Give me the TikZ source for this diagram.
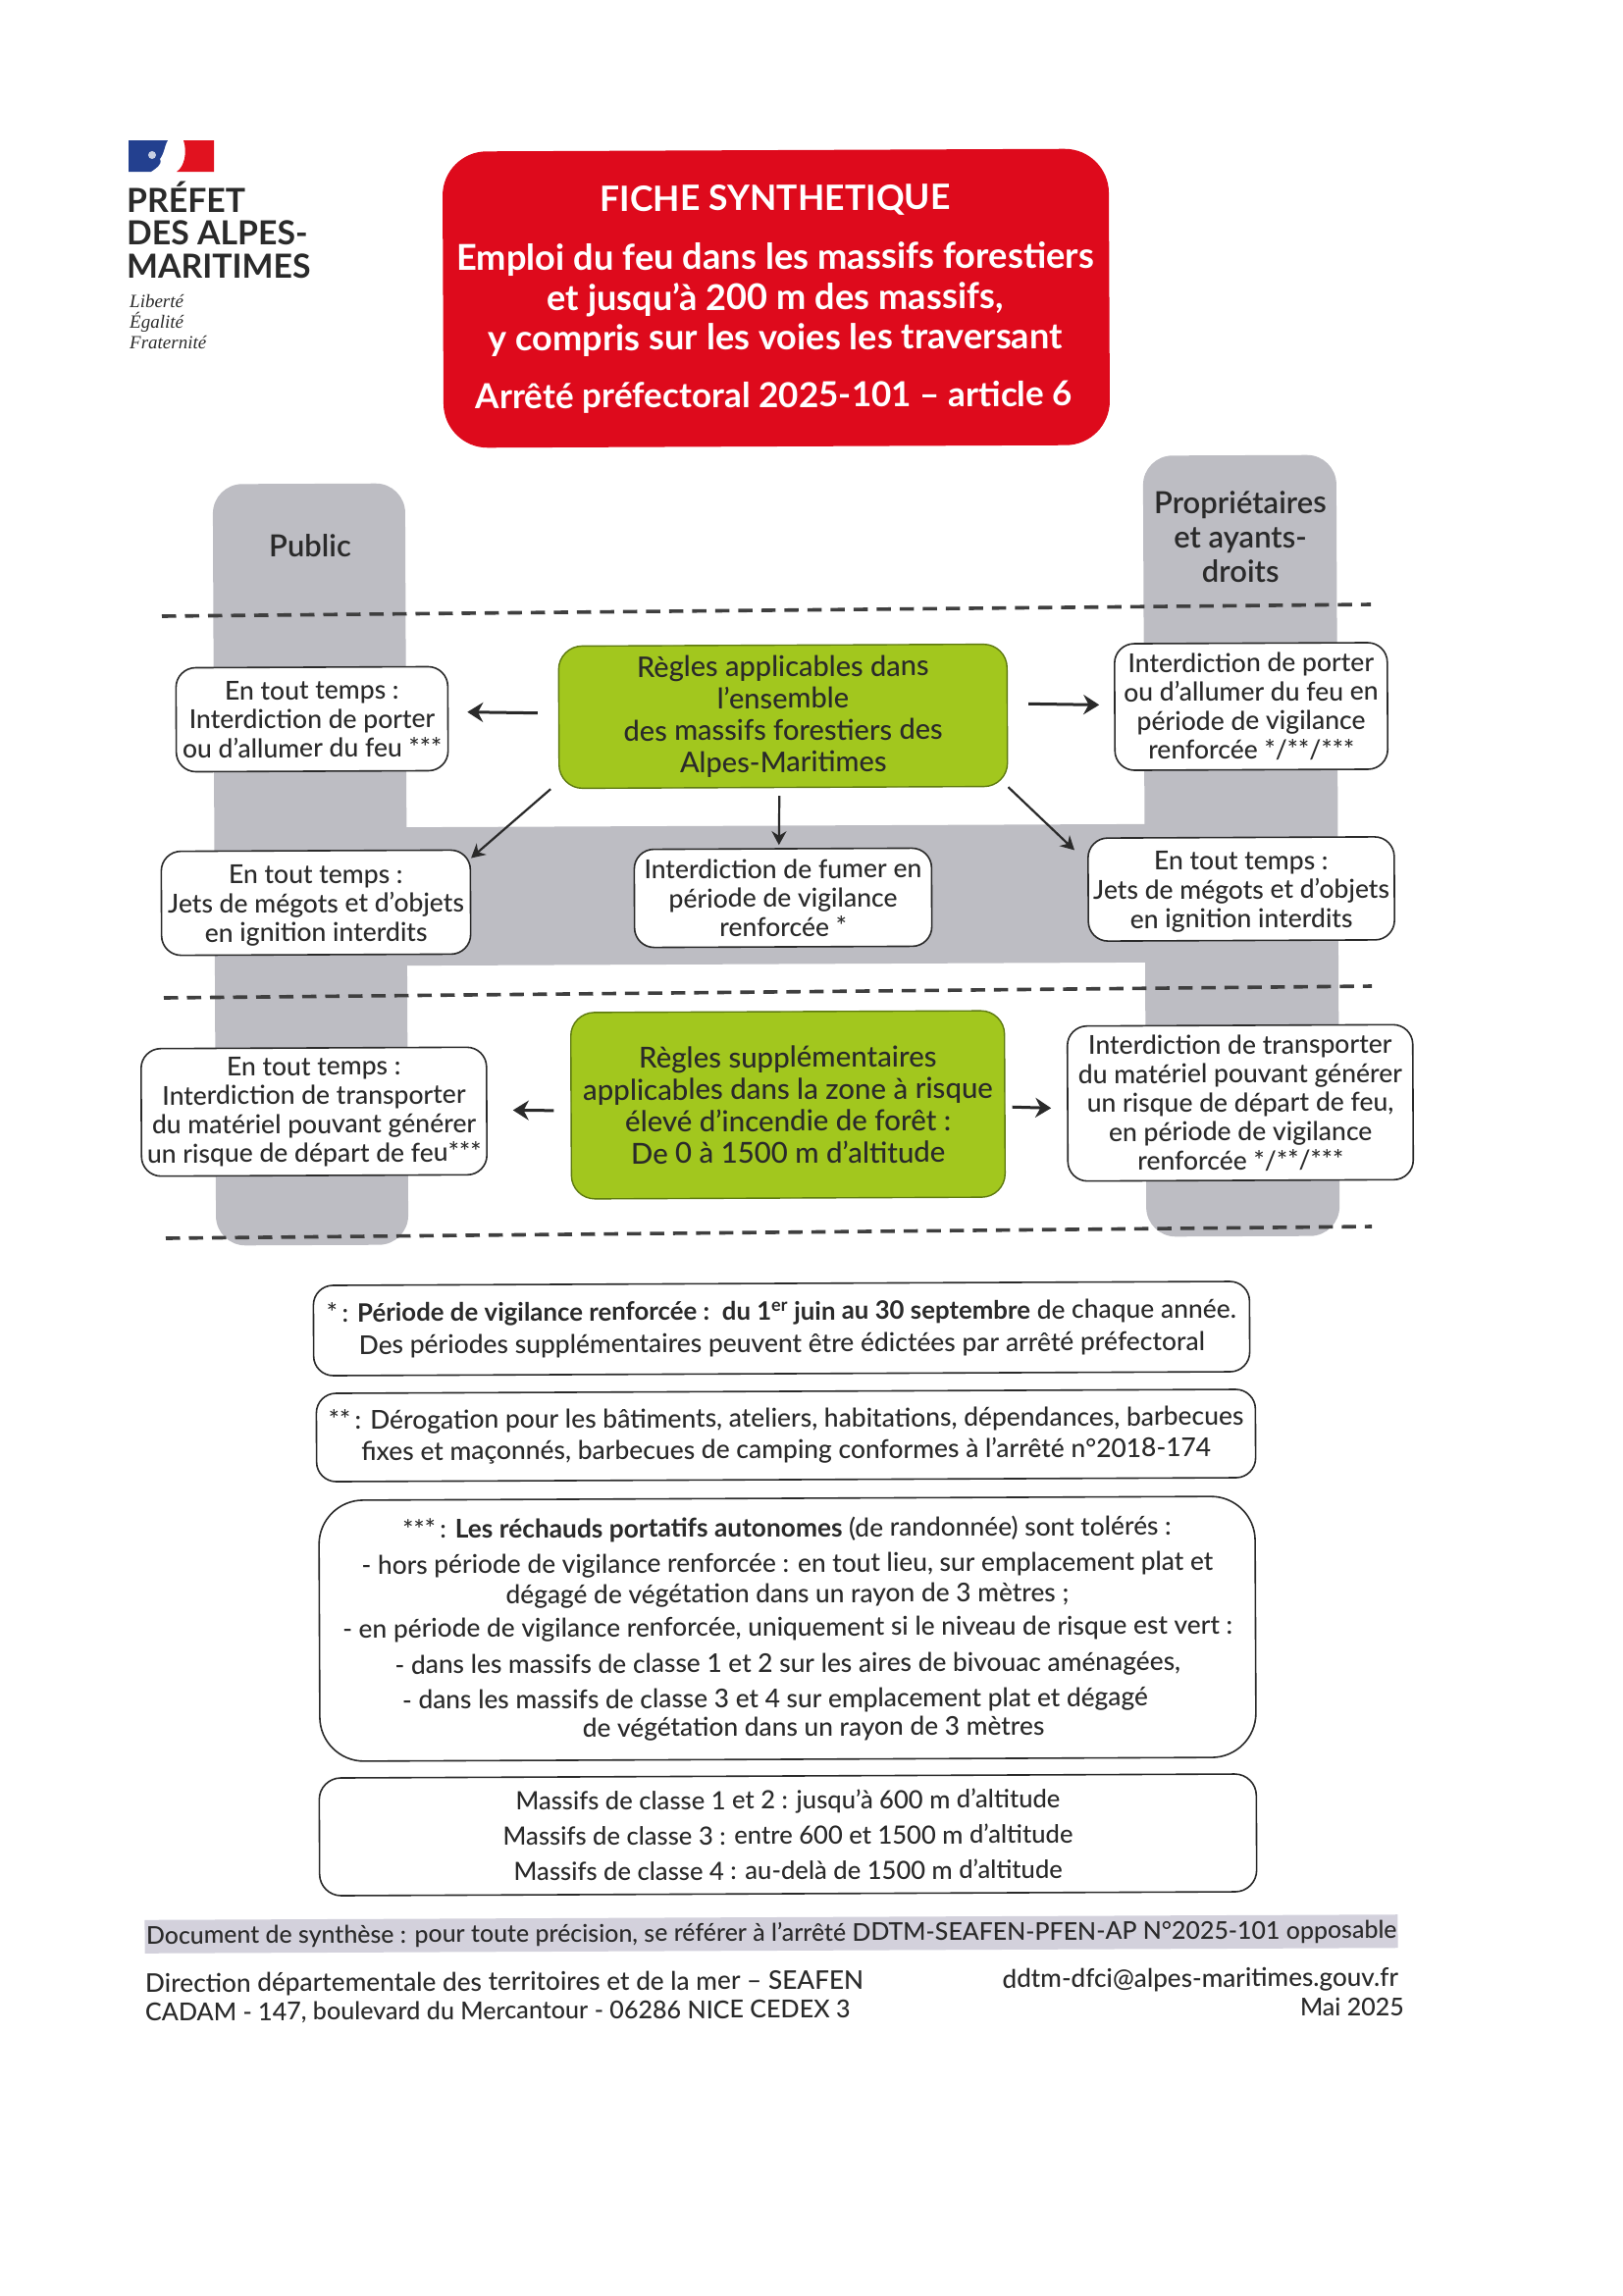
\documentclass[tikz,border=0pt]{standalone}
\usepackage{fontspec}
\setmainfont{Lato Medium}
\newfontfamily\titlefont{Lato Bold}
\newfontfamily\logofont{Lato Bold}
\newfontfamily\strongfont{Lato Bold}
\newfontfamily\semifont{Lato Semibold}
\newfontfamily\devise{Liberation Serif}[ItalicFont=Liberation Serif Italic]
\usetikzlibrary{arrows.meta}
\definecolor{colgrey}{HTML}{BDBDC3}
\definecolor{bandgrey}{HTML}{D3D1DC}
\definecolor{leaf}{HTML}{A2C71E}
\definecolor{leafedge}{HTML}{5E7A10}
\definecolor{alert}{HTML}{DE0A1C}
\definecolor{ink}{HTML}{2A2A2A}
\definecolor{flagblue}{HTML}{23408F}
\definecolor{flagred}{HTML}{E1121F}
\tikzset{
  tilted/.style={rotate=0.25},
  greycol/.style={fill=colgrey,draw=none,rounded corners=30pt,tilted,inner sep=0pt},
  greybar/.style={fill=colgrey,draw=none,tilted,inner sep=0pt},
  whitebox/.style={fill=white,draw=ink,line width=1.6pt,rounded corners=20pt,align=center,inner sep=0pt,text=ink,tilted,font=\fontsize{26.5}{29.5}\selectfont},
  notebox/.style={whitebox,rounded corners=20pt,font=\fontsize{26.4}{33}\selectfont},
  greenbox/.style={fill=leaf,draw=leafedge,line width=1.4pt,rounded corners=24pt,align=center,inner sep=0pt,text=ink,tilted,font=\fontsize{29}{32.5}\selectfont},
  titlebox/.style={fill=alert,draw=none,rounded corners=45pt,tilted,inner sep=0pt},
  titletext/.style={text=white,inner sep=0pt,tilted,anchor=center},
  label/.style={inner sep=0pt,text=ink,tilted,align=center,font=\semifont\fontsize{31}{35}\selectfont},
  foot/.style={inner sep=0pt,text=ink,tilted,font=\fontsize{25}{28}\selectfont},
  logotext/.style={inner sep=0pt,anchor=west,text=ink,font=\logofont\fontsize{33.8}{36}\selectfont},
  devisetext/.style={inner sep=0pt,anchor=west,text=ink,font=\devise\itshape\fontsize{19}{20}\selectfont},
  arr/.style={draw=ink,line width=3pt,-{Stealth[length=16pt,width=20pt]}},
  arrthin/.style={draw=ink,line width=2.2pt,-{Stealth[length=14pt,width=15pt]}},
  dashline/.style={draw=ink!90,line width=3.6pt,dash pattern=on 14.5pt off 9pt},
}
\begin{document}
\begin{tikzpicture}[x=1pt,y=-1pt]
\useasboundingbox (0,0) rectangle (1654,2340);
% grey columns
\node[greycol,minimum width=196pt,minimum height=776pt] (pubcol) at (316.5,881) {};
\node[greycol,minimum width=197pt,minimum height=796pt] (ownercol) at (1265,862) {};
\node[greybar,minimum width=780pt,minimum height=141pt] (bar) at (791,912) {};
\node[label] (publabel) at (316,556) {Public};
\node[label] (ownerlabel) at (1264,547) {Propriétaires\\et ayants-\\droits};
% dashed separators
\coordinate (d1a) at (165,628);\coordinate (d1b) at (1397,616);
\coordinate (d2a) at (167,1017);\coordinate (d2b) at (1398,1005);
\coordinate (d3a) at (169,1262);\coordinate (d3b) at (1398,1250);
\draw[dashline] (d1a) -- (d1b);
\draw[dashline] (d2a) -- (d2b);
\draw[dashline] (d3a) -- (d3b);
% logo
\fill[flagblue] (131,143) -- (171,143) .. controls (167,150) and (168,155) .. (163,162) .. controls (166,168) and (158,172) .. (154,175) -- (131,175) -- cycle;
\fill[flagred] (187,143) -- (218,143) -- (218,175) -- (180,175) .. controls (188,170) and (191,155) .. (187,143) -- cycle;
\fill[white!75!flagblue] (155,158) circle (4pt);
\node[logotext] (pref1) at (129,201) {PRÉFET};
\node[logotext] (pref2) at (129,237) {DES ALPES-};
\node[logotext] (pref3) at (129,271) {MARITIMES};
\node[devisetext] (dev1) at (132,307) {Liberté};
\node[devisetext] (dev2) at (132,328) {Égalité};
\node[devisetext] (dev3) at (132,349) {Fraternité};
% title
\node[titlebox,minimum width=679pt,minimum height=302pt] (title) at (791,304) {};
\node[titletext,font=\titlefont\fontsize{35.6}{40}\selectfont] (t1) at (790,204) {FICHE SYNTHETIQUE};
\node[titletext,font=\titlefont\fontsize{36.3}{40}\selectfont] (t2) at (790,264) {Emploi du feu dans les massifs forestiers};
\node[titletext,font=\titlefont\fontsize{36.2}{40}\selectfont] (t3) at (790,305) {et jusqu’à 200 m des massifs,};
\node[titletext,font=\titlefont\fontsize{36.2}{40}\selectfont] (t4) at (790,346) {y compris sur les voies les traversant};
\node[titletext,font=\titlefont\fontsize{35.1}{40}\selectfont] (t5) at (789,405) {Arrêté préfectoral 2025-101 – article 6};
% rule boxes
\node[greenbox,minimum width=457pt,minimum height=145pt] (green1) at (798,730) {Règles applicables dans\\l’ensemble\\des massifs forestiers des\\Alpes-Maritimes};
\node[whitebox,minimum width=277pt,minimum height=106pt] (pub1) at (318,733) {En tout temps :\\Interdiction de porter\\ou d’allumer du feu ***};
\node[whitebox,minimum width=278pt,minimum height=129pt] (own1) at (1275,720) {Interdiction de porter\\ou d’allumer du feu en\\période de vigilance\\renforcée */**/***};
\node[whitebox,minimum width=315pt,minimum height=106pt] (pub2) at (322,920) {\rule{0pt}{25pt}En tout temps :\\Jets de mégots et d’objets\\en ignition interdits};
\node[whitebox,minimum width=303pt,minimum height=100pt] (mid) at (798,915) {Interdiction de fumer en\\période de vigilance\\renforcée *};
\node[whitebox,minimum width=312pt,minimum height=105pt] (own2) at (1265,906) {\rule{0pt}{25pt}En tout temps :\\Jets de mégots et d’objets\\en ignition interdits};
\node[greenbox,font=\fontsize{29.4}{32.5}\selectfont,minimum width=442pt,minimum height=190pt] (green2) at (803,1126) {Règles supplémentaires\\applicables dans la zone à risque\\élevé d’incendie de forêt :\\De 0 à 1500 m d’altitude};
\node[whitebox,minimum width=352pt,minimum height=130pt] (pub3) at (320,1133) {En tout temps :\\Interdiction de transporter\\du matériel pouvant générer\\un risque de départ de feu***};
\node[whitebox,minimum width=352pt,minimum height=158pt] (own3) at (1264,1124) {Interdiction de transporter\\du matériel pouvant générer\\un risque de départ de feu,\\en période de vigilance\\renforcée */**/***};
% arrows
\draw[arr,shorten <=21pt,shorten >=19pt] ([yshift=4pt]green1.west) -- ([yshift=7pt]pub1.east);
\draw[arr,shorten <=21pt,shorten >=15pt] ([yshift=12pt]green1.east) -- ([yshift=2pt]own1.west);
\draw[arrthin] ([xshift=-8pt]green1.south west) -- ([yshift=-9pt]pub2.north east);
\draw[arrthin,shorten <=8pt,shorten >=3pt] ([xshift=-4pt]green1.south) -- ([xshift=-4pt]mid.north);
\draw[arrthin] (green1.south east) -- ([xshift=-13pt,yshift=-13pt]own2.north west);
\draw[arr,shorten <=17pt,shorten >=26pt] ([yshift=-5pt]green2.west) -- ([yshift=1pt]pub3.east);
\draw[arr,shorten <=7pt,shorten >=16pt] ([yshift=-3pt]green2.east) -- ([yshift=-5pt]own3.west);
% notes
\node[notebox,minimum width=954pt,minimum height=92pt] (note1) at (796.5,1354) {*\,: {\strongfont\fontsize{25.8}{33}\selectfont Période de vigilance renforcée :\ \ du 1\textsuperscript{er} juin au 30 septembre} de chaque année.\\Des périodes supplémentaires peuvent être édictées par arrêté préfectoral};
\node[notebox,minimum width=957pt,minimum height=90pt,font=\fontsize{26.4}{32}\selectfont] (note2) at (801,1463) {**\,: Dérogation pour les bâtiments, ateliers, habitations, dépendances, barbecues\\fixes et maçonnés, barbecues de camping conformes à l’arrêté n°2018-174};
\node[notebox,rounded corners=45pt,minimum width=954pt,minimum height=266pt,font=\fontsize{26.3}{31}\selectfont] (note3) at (802.5,1660) {***\,: {\strongfont Les réchauds portatifs autonomes} (de randonnée) sont tolérés :\\[5pt]- hors période de vigilance renforcée : en tout lieu, sur emplacement plat et\\dégagé de végétation dans un rayon de 3 mètres ;\\[3pt]- en période de vigilance renforcée, uniquement si le niveau de risque est vert :\\[6pt]- dans les massifs de classe 1 et 2 sur les aires de bivouac aménagées,\\[5pt]\hspace*{-26pt}- dans les massifs de classe 3 et 4 sur emplacement plat et dégagé\\[-2pt]\hspace*{52pt}de végétation dans un rayon de 3 mètres};
\node[notebox,rounded corners=22pt,minimum width=955pt,minimum height=120pt,font=\fontsize{25.6}{36}\selectfont] (note4) at (803,1870) {Massifs de classe 1 et 2 : jusqu’à 600 m d’altitude\\Massifs de classe 3 : entre 600 et 1500 m d’altitude\\Massifs de classe 4 : au-delà de 1500 m d’altitude};
% footer
\node[fill=bandgrey,inner sep=0pt,tilted,minimum width=1277pt,minimum height=34pt,text=ink,font=\fontsize{24.9}{28}\selectfont] (band) at (786,1971) {Document de synthèse : pour toute précision, se référer à l’arrêté DDTM-SEAFEN-PFEN-AP N°2025-101 opposable};
\node[foot,anchor=west,font=\fontsize{26.2}{28}\selectfont] (addr1) at (148,2023) {Direction départementale des territoires et de la mer – SEAFEN};
\node[foot,anchor=west,font=\fontsize{25.1}{28}\selectfont] (addr2) at (148,2052) {CADAM - 147, boulevard du Mercantour - 06286 NICE CEDEX 3};
\node[foot,anchor=east,font=\fontsize{26.1}{28}\selectfont] (mail) at (1425,2017) {ddtm-dfci@alpes-maritimes.gouv.fr};
\node[foot,anchor=east] (date) at (1431,2045) {Mai 2025};
\end{tikzpicture}
\end{document}
